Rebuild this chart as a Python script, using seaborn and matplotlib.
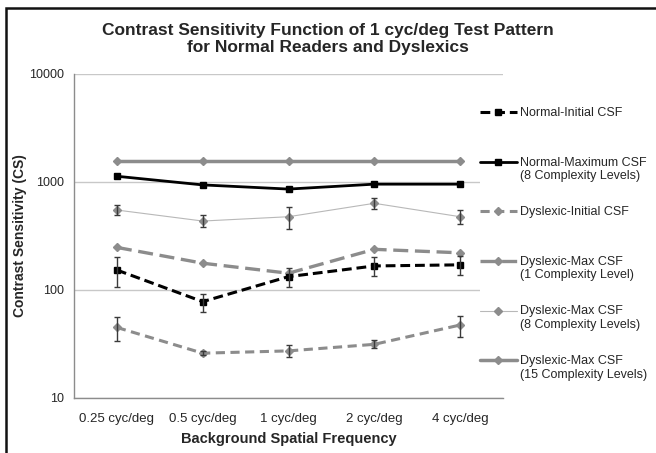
import matplotlib

matplotlib.use("Agg")
import matplotlib.pyplot as plt
from matplotlib.patches import Rectangle
from matplotlib.ticker import NullLocator

import numpy as np
import seaborn as sns

# --- Data ---
frequencies = ["0.25 cyc/deg", "0.5 cyc/deg", "1 cyc/deg", "2 cyc/deg", "4 cyc/deg"]
y_ticks = [10, 100, 1000, 10000]

normal_initial = [153, 78, 133, 167, 171]
normal_initial_low = [106, 62, 106, 135, 138]
normal_initial_high = [201, 92, 160, 201, 206]

normal_max_8 = [1130, 940, 860, 955, 955]

dyslexic_initial = [45, 26, 27.3, 31.4, 47.4]
dyslexic_initial_low = [34, 25, 24, 29, 37]
dyslexic_initial_high = [56, 27, 31, 34.4, 58]

dyslexic_max_1 = [248, 177, 143, 238, 221]

dyslexic_max_8 = [550, 435, 477, 635, 477]
dyslexic_max_8_low = [495, 383, 365, 562, 408]
dyslexic_max_8_high = [612, 495, 590, 711, 551]

dyslexic_max_15 = [1550, 1550, 1550, 1550, 1550]

labels = [
    "Normal-Initial CSF",
    "Normal-Maximum CSF\n(8 Complexity Levels)",
    "Dyslexic-Initial CSF",
    "Dyslexic-Max CSF\n(1 Complexity Level)",
    "Dyslexic-Max CSF\n(8 Complexity Levels)",
    "Dyslexic-Max CSF\n(15 Complexity Levels)",
]

BLACK = "#000000"
GREY = "#8c8c8c"
LIGHT = "#b8b8b8"
AXIS = "#8c8c8c"

# (values, low, high, style)
series = [
    (normal_initial, normal_initial_low, normal_initial_high,
     dict(color=BLACK, linewidth=2.2, linestyle=(0, (3.2, 1.6)), marker="s",
          markersize=5, markerfacecolor=BLACK, markeredgecolor=BLACK)),
    (normal_max_8, None, None,
     dict(color=BLACK, linewidth=2.0, linestyle="-", marker="s",
          markersize=5, markerfacecolor=BLACK, markeredgecolor=BLACK)),
    (dyslexic_initial, dyslexic_initial_low, dyslexic_initial_high,
     dict(color=GREY, linewidth=2.2, linestyle=(0, (3.0, 1.8)), marker="D",
          markersize=4, markerfacecolor=GREY, markeredgecolor=GREY)),
    (dyslexic_max_1, None, None,
     dict(color=GREY, linewidth=2.4, linestyle=(0, (4.5, 2.0)), marker="D",
          markersize=4, markerfacecolor=GREY, markeredgecolor=GREY)),
    (dyslexic_max_8, dyslexic_max_8_low, dyslexic_max_8_high,
     dict(color=LIGHT, linewidth=0.8, linestyle="-", marker="D",
          markersize=4, markerfacecolor=GREY, markeredgecolor=GREY)),
    (dyslexic_max_15, None, None,
     dict(color=GREY, linewidth=2.5, linestyle="-", marker="D",
          markersize=4, markerfacecolor=GREY, markeredgecolor=GREY)),
]
draw_order = [6, 5, 3, 4, 2, 1]

sns.set_style("white")
plt.rcParams["font.family"] = ["Liberation Sans", "DejaVu Sans"]

fig = plt.figure(figsize=(6.56, 4.53), dpi=100)
ax = fig.add_axes([74 / 656, 1 - 398 / 453, 429 / 656, 324 / 453])

x_pos = np.arange(len(frequencies))

for order, (vals, low, high, style) in zip(draw_order, series):
    if low is None:
        continue
    vals = np.asarray(vals, dtype=float)
    ax.errorbar(
        x_pos, vals,
        yerr=[vals - np.asarray(low), np.asarray(high) - vals],
        fmt="none", ecolor="#3a3a3a", elinewidth=1.0,
        capsize=2.5, capthick=1.0, zorder=order + 0.5,
    )

for idx, (vals, low, high, style) in enumerate(series):
    sns.lineplot(
        x=x_pos, y=vals, ax=ax, errorbar=None, sort=False, legend=False,
        label=labels[idx], markeredgewidth=1.0, zorder=draw_order[idx],
        **style,
    )

ax.set_yscale("log")
ax.set_ylim(10, 10000)
ax.set_yticks(y_ticks)
ax.set_yticklabels([str(v) for v in y_ticks])
ax.yaxis.set_minor_locator(NullLocator())
ax.set_xlim(-0.5, len(frequencies) - 0.5)
ax.set_xticks(x_pos)
ax.set_xticklabels(frequencies)
ax.set_xticks(np.arange(-0.5, len(frequencies)), minor=True)

ax.tick_params(axis="x", which="major", length=0, pad=11, labelsize=9.5)
ax.tick_params(axis="x", which="minor", length=4, width=1, color=AXIS, direction="out")
ax.tick_params(axis="y", which="major", length=4, width=1, color=AXIS,
               direction="out", pad=3.5, labelsize=9)

ax.yaxis.grid(True, color="#c8c8c8", linewidth=1)
ax.xaxis.grid(False)
ax.set_axisbelow(True)
sns.despine(ax=ax)
for side in ["left", "bottom"]:
    ax.spines[side].set_color(AXIS)
    ax.spines[side].set_linewidth(1)

ax.set_ylabel("Contrast Sensitivity (CS)", fontsize=10, fontweight="bold")
ax.yaxis.set_label_coords((27 - 74) / 429, 0.5)
ax.set_xlabel("Background Spatial Frequency", fontsize=10.5, fontweight="bold")
ax.xaxis.set_label_coords(0.5, (398 - 432) / 324)

fig.text(0.5, 1 - 39 / 453,
         "Contrast Sensitivity Function of 1 cyc/deg Test Pattern\n"
         "for Normal Readers and Dyslexics",
         ha="center", va="center", fontsize=12.5, fontweight="bold",
         linespacing=1.15)

# legend: pad single-line labels to two lines so the entries are spaced evenly
handles, _ = ax.get_legend_handles_labels()
legend_labels = [lab if "\n" in lab else lab + "\n " for lab in labels]
leg = fig.legend(
    handles, legend_labels, loc="upper left",
    bbox_to_anchor=(480 / 656, 1 - 107 / 453), bbox_transform=fig.transFigure,
    fontsize=9, frameon=True, facecolor="white", edgecolor="none", framealpha=1,
    borderpad=0, borderaxespad=0, handlelength=2.95, handletextpad=0.25,
    handleheight=1.2, labelspacing=1.9, fancybox=False,
)
for col in leg._legend_handle_box.get_children():
    for row in col.get_children():
        row.align = "top"

# outer chart frame (top and left edges visible)
fig.patches.append(Rectangle((6 / 656, -0.5), 2, 1.5 - 8 / 453,
                             transform=fig.transFigure, fill=False,
                             edgecolor="#111111", linewidth=1.8))

fig.savefig("out.png", dpi=100)
plt.close(fig)
